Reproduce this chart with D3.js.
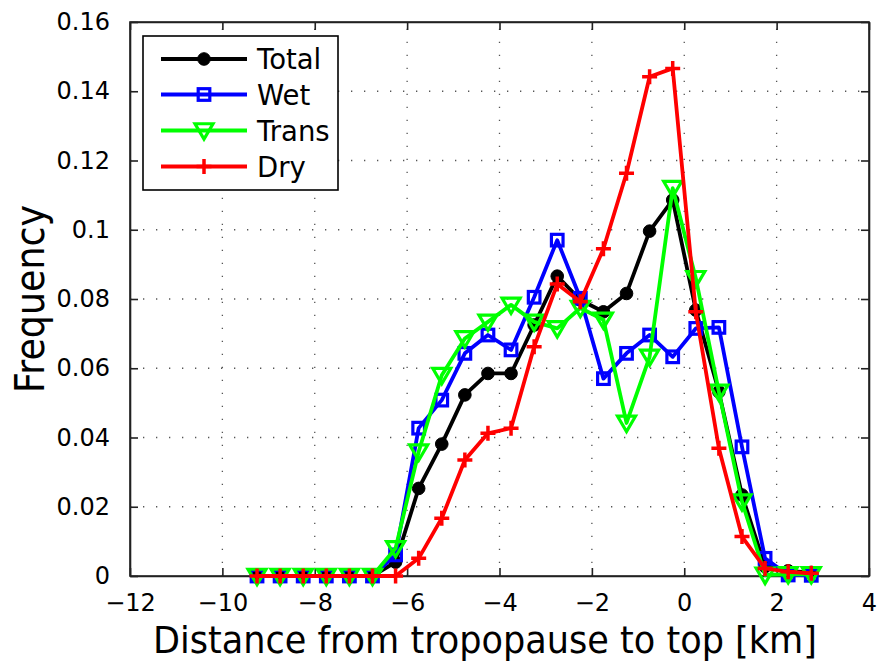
<!DOCTYPE html>
<html>
<head>
<meta charset="utf-8">
<script src="https://cdn.jsdelivr.net/npm/d3@7"></script>
<style>
html,body{margin:0;padding:0;background:#fff;}
svg{display:block;}
text{font-family:"DejaVu Sans",sans-serif;fill:#000;}
</style>
</head>
<body>
<svg id="chart" width="877" height="666"></svg>
<script>
// ---- data ----
const distance = [-9.25,-8.75,-8.25,-7.75,-7.25,-6.75,-6.25,-5.75,-5.25,-4.75,-4.25,-3.75,-3.25,-2.75,-2.25,-1.75,-1.25,-0.75,-0.25,0.25,0.75,1.25,1.75,2.25,2.75];
const totalFreq = [0,0,0,0,0,0,0.0040,0.0253,0.0381,0.0523,0.0585,0.0585,0.0725,0.0866,0.0797,0.0763,0.0816,0.0996,0.1086,0.0768,0.0532,0.0234,0.0027,0.0015,0.0010];
const wetFreq   = [0,0,0,0,0,0,0.0061,0.0427,0.0508,0.0643,0.0696,0.0653,0.0805,0.0970,0.0802,0.0570,0.0643,0.0696,0.0633,0.0715,0.0718,0.0373,0.0051,0.0003,0.0002];
const transFreq = [0,0,0,0,0,0,0.0080,0.0359,0.0580,0.0686,0.0734,0.0783,0.0734,0.0715,0.0774,0.0740,0.0442,0.0633,0.1120,0.0860,0.0532,0.0215,0.0003,0.0005,0.0005];
const dryFreq   = [0,0,0,0,0,0,0.0000,0.0051,0.0167,0.0335,0.0412,0.0427,0.0662,0.0843,0.0792,0.0945,0.1163,0.1442,0.1466,0.0763,0.0369,0.0114,0.0022,0.0012,0.0008];
const seriesNames = ["Total","Wet","Trans","Dry"];
const xTicks = [-12,-10,-8,-6,-4,-2,0,2,4];
const yTicks = [0,0.02,0.04,0.06,0.08,0.1,0.12,0.14,0.16];
const xLabel = "Distance from tropopause to top [km]";
const yLabel = "Frequency";

// ---- layout ----
const L = 130, R = 869, T = 22, B = 576;
const svg = d3.select("#chart");
const x = d3.scaleLinear().domain([-12,4]).range([L,R]);
const y = d3.scaleLinear().domain([0,0.16]).range([B,T]);

const styles = {
  Total: {color:"#000000", marker:"circle"},
  Wet:   {color:"#0000ff", marker:"square"},
  Trans: {color:"#00ff00", marker:"triangle"},
  Dry:   {color:"#ff0000", marker:"plus"}
};
const seriesData = {Total: totalFreq, Wet: wetFreq, Trans: transFreq, Dry: dryFreq};

// grid
const grid = svg.append("g");
xTicks.slice(1,-1).forEach(t => {
  grid.append("line").attr("x1",x(t)).attr("x2",x(t)).attr("y1",B).attr("y2",T)
    .attr("stroke","#555").attr("stroke-width",1.3).attr("stroke-dasharray","1.3,11.7");
});
yTicks.slice(1,-1).forEach(t => {
  grid.append("line").attr("x1",L).attr("x2",R).attr("y1",y(t)).attr("y2",y(t))
    .attr("stroke","#555").attr("stroke-width",1.3).attr("stroke-dasharray","1.3,11.7");
});

// axes
const fmtY = d => d === 0 ? "0" : String(+d.toFixed(2));
const fmtX = d => d < 0 ? "\u2212" + Math.abs(d) : String(d);
const axB = d3.axisBottom(x).tickValues(xTicks).tickSizeInner(-8).tickSizeOuter(0).tickPadding(18).tickFormat(fmtX);
const axT = d3.axisTop(x).tickValues(xTicks).tickSizeInner(-8).tickSizeOuter(0).tickFormat("");
const axL = d3.axisLeft(y).tickValues(yTicks).tickSizeInner(-8).tickSizeOuter(0).tickPadding(20).tickFormat(fmtY);
const axR = d3.axisRight(y).tickValues(yTicks).tickSizeInner(-8).tickSizeOuter(0).tickFormat("");
function styleAxis(g){
  g.selectAll("path").attr("stroke","#222").attr("stroke-width",1.6);
  g.selectAll("line").attr("stroke","#222").attr("stroke-width",1.6);
  g.selectAll("text").attr("font-size",24).attr("font-family","DejaVu Sans").attr("fill","#000");
}
svg.append("g").attr("transform",`translate(0,${B})`).call(axB).call(styleAxis);
svg.append("g").attr("transform",`translate(0,${T})`).call(axT).call(styleAxis);
svg.append("g").attr("transform",`translate(${L},0)`).call(axL).call(styleAxis);
svg.append("g").attr("transform",`translate(${R},0)`).call(axR).call(styleAxis);
svg.append("rect").attr("x",L).attr("y",T).attr("width",R-L).attr("height",B-T)
  .attr("fill","none").attr("stroke","#222").attr("stroke-width",1.6);

// marker drawing
function drawMarker(g, type, color, cx, cy){
  if(type==="circle"){
    g.append("circle").attr("cx",cx).attr("cy",cy).attr("r",6.3).attr("fill",color).attr("stroke",color).attr("stroke-width",1);
  } else if(type==="square"){
    g.append("rect").attr("x",cx-5.8).attr("y",cy-5.8).attr("width",11.6).attr("height",11.6)
      .attr("fill","none").attr("stroke",color).attr("stroke-width",3.2);
  } else if(type==="triangle"){
    const s = 9;
    g.append("path").attr("d",`M${cx-s},${cy-s*0.75}L${cx+s},${cy-s*0.75}L${cx},${cy+s*0.95}Z`)
      .attr("fill","none").attr("stroke",color).attr("stroke-width",3.2).attr("stroke-linejoin","miter");
  } else if(type==="plus"){
    const s = 7.5;
    g.append("path").attr("d",`M${cx-s},${cy}L${cx+s},${cy}M${cx},${cy-s}L${cx},${cy+s}`)
      .attr("fill","none").attr("stroke",color).attr("stroke-width",3.5);
  }
}

// series
const line = d3.line().x(d => x(d[0])).y(d => y(d[1]));
seriesNames.forEach(name => {
  const st = styles[name];
  const pts = distance.map((d,i) => [d, seriesData[name][i]]);
  const g = svg.append("g");
  g.append("path").datum(pts).attr("d",line).attr("fill","none")
    .attr("stroke",st.color).attr("stroke-width",3.8).attr("stroke-linejoin","round");
  pts.forEach(p => drawMarker(g, st.marker, st.color, x(p[0]), y(p[1])));
});

// legend
const lg = svg.append("g");
lg.append("rect").attr("x",143).attr("y",36).attr("width",195).attr("height",154)
  .attr("fill","#fff").attr("stroke","#000").attr("stroke-width",1.6);
const rowY = [59,94.5,130.5,166.5];
seriesNames.forEach((name,i) => {
  const st = styles[name];
  lg.append("line").attr("x1",161).attr("x2",247).attr("y1",rowY[i]).attr("y2",rowY[i])
    .attr("stroke",st.color).attr("stroke-width",3.8);
  drawMarker(lg, st.marker, st.color, 204, rowY[i]);
  lg.append("text").attr("x",257).attr("y",rowY[i]+10).attr("font-size",27.5).text(name);
});

// axis labels
svg.append("text").attr("x",(153+817)/2).attr("y",653).attr("text-anchor","middle")
  .attr("font-size",38).attr("textLength",664).attr("lengthAdjust","spacingAndGlyphs").text(xLabel);
svg.append("text").attr("transform","translate(44,299) rotate(-90)").attr("text-anchor","middle")
  .attr("font-size",40).attr("textLength",188).attr("lengthAdjust","spacingAndGlyphs").text(yLabel);
</script>
</body>
</html>
